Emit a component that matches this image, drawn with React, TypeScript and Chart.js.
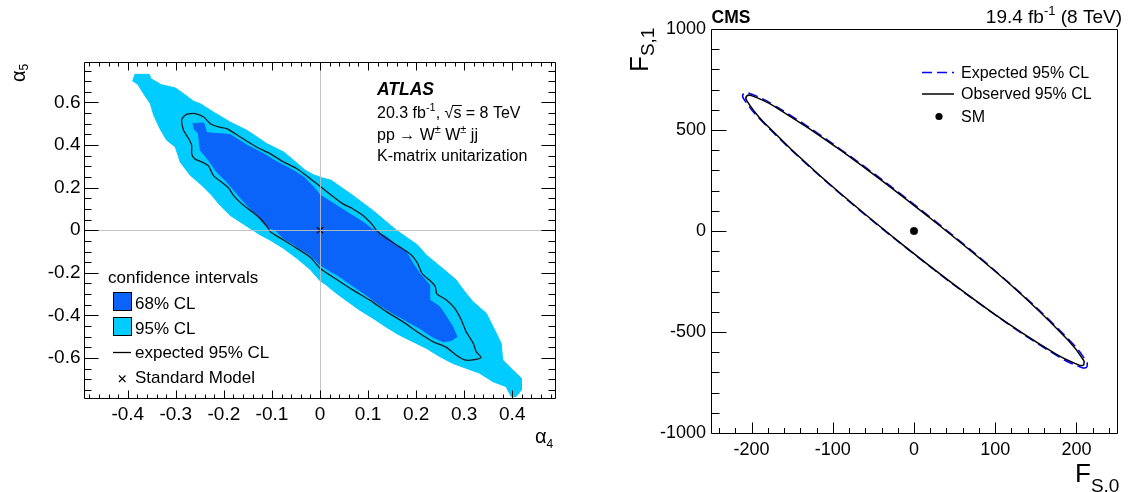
import React, { useEffect, useRef } from 'react';
import { Chart, registerables } from 'chart.js';

Chart.register(...registerables);

const FONT = '"Liberation Sans", Arial, Helvetica, sans-serif';
const DARK_BLUE = '#0a64fa';
const LIGHT_BLUE = '#00ccff';

// ---------------- Left panel (ATLAS, alpha4 vs alpha5) ----------------
const alpha4Ticks = [-0.4, -0.3, -0.2, -0.1, 0, 0.1, 0.2, 0.3, 0.4];
const alpha5Ticks = [-0.6, -0.4, -0.2, 0, 0.2, 0.4, 0.6];

// 95% CL observed region outline
const cl95Alpha4 = [
  -0.390, -0.385, -0.355, -0.352, -0.331, -0.301, -0.284, -0.263, -0.249, -0.222, -0.187, -0.152, -0.111, -0.076,
  -0.055, -0.031, -0.014, 0.004, 0.023, 0.068, 0.110, 0.159, 0.183, 0.203, 0.221, 0.242, 0.263, 0.283, 0.301,
  0.318, 0.346, 0.360, 0.377, 0.380, 0.401, 0.419, 0.419, 0.408, 0.398,
  0.387, 0.360, 0.332, 0.304, 0.276, 0.249, 0.221, 0.193, 0.165, 0.138, 0.110, 0.082, 0.061, 0.034, 0.013, 0.000,
  -0.020, -0.048, -0.076, -0.104, -0.124, -0.145, -0.166, -0.187, -0.208, -0.225, -0.246, -0.270, -0.291, -0.301,
  -0.319, -0.333, -0.346, -0.353, -0.367, -0.378,
];
const cl95Alpha5 = [
  0.700, 0.732, 0.732, 0.712, 0.684, 0.668, 0.641, 0.606, 0.594, 0.555, 0.508, 0.469, 0.407, 0.368,
  0.329, 0.282, 0.261, 0.246, 0.235, 0.164, 0.093, 0.000, -0.038, -0.069, -0.116, -0.155, -0.194, -0.233, -0.288,
  -0.335, -0.390, -0.453, -0.531, -0.609, -0.656, -0.695, -0.750, -0.781, -0.781,
  -0.734, -0.711, -0.671, -0.648, -0.625, -0.593, -0.554, -0.523, -0.492, -0.455, -0.413, -0.374, -0.340, -0.296, -0.257, -0.237,
  -0.185, -0.132, -0.085, -0.046, -0.022, 0.008, 0.039, 0.070, 0.117, 0.164, 0.211, 0.258, 0.321, 0.391,
  0.423, 0.477, 0.540, 0.594, 0.641, 0.681,
];

// 68% CL observed region outline
const cl68Alpha4 = [
  -0.265, -0.242, -0.236, -0.187, -0.152, -0.118, -0.090, -0.062, -0.034, -0.012, 0.000, 0.034, 0.061, 0.089,
  0.112, 0.138, 0.159, 0.179, 0.193, 0.207, 0.228, 0.228, 0.249, 0.263, 0.276, 0.285, 0.273, 0.256,
  0.235, 0.207, 0.179, 0.151, 0.124, 0.096, 0.068, 0.041, 0.020, 0.000, -0.020, -0.048, -0.076, -0.093,
  -0.111, -0.132, -0.152, -0.173, -0.194, -0.215, -0.232, -0.249, -0.253, -0.263,
];
const cl68Alpha5 = [
  0.500, 0.504, 0.458, 0.449, 0.399, 0.360, 0.321, 0.289, 0.250, 0.200, 0.165, 0.117, 0.078, 0.039,
  0.000, -0.030, -0.069, -0.100, -0.155, -0.202, -0.257, -0.327, -0.359, -0.406, -0.453, -0.500, -0.518, -0.523,
  -0.502, -0.460, -0.424, -0.390, -0.351, -0.304, -0.261, -0.218, -0.190, -0.163, -0.116, -0.077, -0.038, 0.000,
  0.016, 0.070, 0.117, 0.172, 0.227, 0.274, 0.329, 0.376, 0.454, 0.477,
];

// expected 95% CL contour
const expAlpha4 = [
  -0.288, -0.287, -0.277, -0.260, -0.242, -0.228, -0.211, -0.194, -0.166, -0.132, -0.104, -0.076, -0.048, -0.020,
  0.002, 0.047, 0.068, 0.089, 0.110, 0.117, 0.138, 0.165, 0.190, 0.203, 0.212, 0.231, 0.240, 0.243, 0.263, 0.280,
  0.294, 0.304, 0.319, 0.325, 0.335, 0.318, 0.301, 0.283, 0.263, 0.235, 0.207, 0.172, 0.138, 0.103, 0.068, 0.034,
  0.000, -0.020, -0.048, -0.076, -0.104, -0.107, -0.124, -0.145, -0.163, -0.180, -0.190, -0.201, -0.222, -0.232,
  -0.246, -0.261, -0.267, -0.267, -0.274, -0.284, -0.288,
];
const expAlpha5 = [
  0.508, 0.524, 0.545, 0.548, 0.532, 0.500, 0.485, 0.477, 0.438, 0.391, 0.360, 0.321, 0.289, 0.242,
  0.203, 0.125, 0.101, 0.070, 0.023, 0.000, -0.038, -0.077, -0.116, -0.155, -0.202, -0.241, -0.265, -0.299, -0.327, -0.366,
  -0.421, -0.476, -0.531, -0.570, -0.597, -0.609, -0.609, -0.586, -0.550, -0.523, -0.484, -0.429, -0.382, -0.327, -0.280, -0.230,
  -0.178, -0.127, -0.085, -0.046, -0.006, 0.008, 0.054, 0.093, 0.125, 0.164, 0.198, 0.219, 0.258, 0.302,
  0.321, 0.336, 0.360, 0.399, 0.433, 0.469, 0.508,
];

const smAlpha4 = [0];
const smAlpha5 = [0];

// ---------------- Right panel (CMS, F_S0 vs F_S1) ----------------
const fs0Ticks = [-200, -100, 0, 100, 200];
const fs1Ticks = [-1000, -500, 0, 500, 1000];

const obsFS0 = [209, 204, 175, 93, -13, -115, -186, -206, -206, -200, -171, -90, 16, 119, 189, 209, 209];
const obsFS1 = [-665, -665, -610, -394, -71, 271, 542, 645, 668, 670, 615, 399, 76, -266, -537, -640, -665];

const expFS0 = [213, 208, 178, 95, -13, -117, -189, -210, -210, -204, -174, -91, 17, 121, 193, 213, 213];
const expFS1 = [-675, -678, -622, -401, -73, 276, 551, 656, 680, 683, 627, 406, 78, -271, -547, -651, -675];

const smFS0 = [0];
const smFS1 = [0];

// ---------------- helpers ----------------
const toPoints = (xs: number[], ys: number[]) => xs.map((x, i) => ({ x, y: ys[i] }));

type Run = { t: string; size: number; dy?: number; style?: string };
function runsWidth(ctx: CanvasRenderingContext2D, runs: Run[]) {
  let w = 0;
  for (const r of runs) {
    ctx.font = `${r.style ?? ''} ${r.size}px ${FONT}`;
    w += ctx.measureText(r.t).width;
  }
  return w;
}
function drawRuns(ctx: CanvasRenderingContext2D, x: number, y: number, runs: Run[]) {
  let cx = x;
  for (const r of runs) {
    ctx.font = `${r.style ?? ''} ${r.size}px ${FONT}`;
    ctx.fillText(r.t, cx, y + (r.dy ?? 0));
    cx += ctx.measureText(r.t).width;
  }
  return cx;
}

type FrameCfg = {
  xMajor: number; xMinor: number; xMajorLen: number; xMinorLen: number;
  yMajor: number; yMinor: number; yMajorLen: number; yMinorLen: number;
  mirror: boolean;
};
function makeFramePlugin(cfg: FrameCfg) {
  return {
    id: 'frameTicks',
    afterDatasetsDraw(chart: any) {
      const { ctx, chartArea: a, scales } = chart;
      const xs = scales.x;
      const ys = scales.y;
      const L = Math.floor(a.left) + 0.5;
      const R = Math.floor(a.right) + 0.5;
      const T = Math.floor(a.top) + 0.5;
      const B = Math.floor(a.bottom) + 0.5;
      ctx.save();
      ctx.strokeStyle = '#000';
      ctx.lineWidth = 1;
      ctx.beginPath();
      ctx.rect(L, T, R - L, B - T);
      ctx.stroke();
      ctx.beginPath();
      const isMajor = (v: number, m: number) => Math.abs(v / m - Math.round(v / m)) < 1e-6;
      for (let i = Math.ceil(xs.min / cfg.xMinor - 1e-6); i <= Math.floor(xs.max / cfg.xMinor + 1e-6); i++) {
        const v = i * cfg.xMinor;
        const len = isMajor(v, cfg.xMajor) ? cfg.xMajorLen : cfg.xMinorLen;
        const p = Math.round(xs.getPixelForValue(v)) + 0.5;
        ctx.moveTo(p, B);
        ctx.lineTo(p, B - len);
        if (cfg.mirror) {
          ctx.moveTo(p, T);
          ctx.lineTo(p, T + len);
        }
      }
      for (let i = Math.ceil(ys.min / cfg.yMinor - 1e-6); i <= Math.floor(ys.max / cfg.yMinor + 1e-6); i++) {
        const v = i * cfg.yMinor;
        const len = isMajor(v, cfg.yMajor) ? cfg.yMajorLen : cfg.yMinorLen;
        const p = Math.round(ys.getPixelForValue(v)) + 0.5;
        ctx.moveTo(L, p);
        ctx.lineTo(L + len, p);
        if (cfg.mirror) {
          ctx.moveTo(R, p);
          ctx.lineTo(R - len, p);
        }
      }
      ctx.stroke();
      ctx.restore();
    },
  };
}

const crosshairPlugin = {
  id: 'crosshair',
  afterDatasetsDraw(chart: any) {
    const { ctx, chartArea: a, scales } = chart;
    const px = Math.round(scales.x.getPixelForValue(0)) + 0.5;
    const py = Math.round(scales.y.getPixelForValue(0)) + 0.5;
    ctx.save();
    ctx.strokeStyle = 'rgba(190,190,190,0.9)';
    ctx.lineWidth = 1;
    ctx.beginPath();
    ctx.moveTo(px, a.top);
    ctx.lineTo(px, a.bottom);
    ctx.moveTo(a.left, py);
    ctx.lineTo(a.right, py);
    ctx.stroke();
    ctx.restore();
  },
};

const atlasTextPlugin = {
  id: 'atlasText',
  afterDraw(chart: any) {
    const ctx: CanvasRenderingContext2D = chart.ctx;
    ctx.save();
    ctx.fillStyle = '#000';
    ctx.strokeStyle = '#000';
    ctx.textAlign = 'left';
    ctx.textBaseline = 'alphabetic';

    // ATLAS label block
    ctx.font = `italic bold 17.5px ${FONT}`;
    ctx.fillText('ATLAS', 377, 95);
    let x = drawRuns(ctx, 377, 118, [
      { t: '20.3 fb', size: 16 },
      { t: '-1', size: 11, dy: -7 },
      { t: ', ', size: 16 },
    ]);
    ctx.font = `16px ${FONT}`;
    ctx.fillText('√', x, 118);
    x += ctx.measureText('√').width;
    const sx = x;
    ctx.fillText('s', x, 118);
    x += ctx.measureText('s').width;
    ctx.lineWidth = 1;
    ctx.beginPath();
    ctx.moveTo(sx - 1, 105.5);
    ctx.lineTo(x + 0.5, 105.5);
    ctx.stroke();
    drawRuns(ctx, x, 118, [{ t: ' = 8 TeV', size: 16 }]);
    drawRuns(ctx, 377, 140, [
      { t: 'pp → W', size: 16 },
      { t: '±', size: 11, dy: -7 },
      { t: ' W', size: 16 },
      { t: '±', size: 11, dy: -7 },
      { t: ' jj', size: 16 },
    ]);
    drawRuns(ctx, 377, 161, [{ t: 'K-matrix unitarization', size: 16 }]);

    // legend
    drawRuns(ctx, 108, 283, [{ t: 'confidence intervals', size: 17 }]);
    ctx.lineWidth = 1;
    ctx.fillStyle = DARK_BLUE;
    ctx.fillRect(113.5, 292.5, 18, 18);
    ctx.strokeRect(113.5, 292.5, 18, 18);
    ctx.fillStyle = LIGHT_BLUE;
    ctx.fillRect(113.5, 317.5, 18, 18);
    ctx.strokeRect(113.5, 317.5, 18, 18);
    ctx.fillStyle = '#000';
    drawRuns(ctx, 135, 308.5, [{ t: '68% CL', size: 17 }]);
    drawRuns(ctx, 135, 333.5, [{ t: '95% CL', size: 17 }]);
    ctx.lineWidth = 1.3;
    ctx.beginPath();
    ctx.moveTo(113, 352.5);
    ctx.lineTo(131, 352.5);
    ctx.stroke();
    drawRuns(ctx, 135, 358, [{ t: 'expected 95% CL', size: 17 }]);
    ctx.lineWidth = 1.1;
    ctx.beginPath();
    ctx.moveTo(119, 375.5);
    ctx.lineTo(125.5, 382);
    ctx.moveTo(125.5, 375.5);
    ctx.lineTo(119, 382);
    ctx.stroke();
    drawRuns(ctx, 135, 383, [{ t: 'Standard Model', size: 17 }]);

    // axis titles
    drawRuns(ctx, 535, 443, [
      { t: 'α', size: 20 },
      { t: '4', size: 12, dy: 5 },
    ]);
    ctx.translate(25, 82);
    ctx.rotate(-Math.PI / 2);
    drawRuns(ctx, 0, 0, [
      { t: 'α', size: 20 },
      { t: '5', size: 12, dy: 3 },
    ]);
    ctx.restore();
  },
};

const cmsTextPlugin = {
  id: 'cmsText',
  afterDraw(chart: any) {
    const ctx: CanvasRenderingContext2D = chart.ctx;
    const ox = -565; // canvas offset relative to page
    ctx.save();
    ctx.fillStyle = '#000';
    ctx.strokeStyle = '#000';
    ctx.textAlign = 'left';
    ctx.textBaseline = 'alphabetic';

    ctx.font = `bold 17.5px ${FONT}`;
    ctx.fillText('CMS', 711.5 + ox, 23);
    const lumi: Run[] = [
      { t: '19.4 fb', size: 19 },
      { t: '-1', size: 13, dy: -8 },
      { t: ' (8 TeV)', size: 19 },
    ];
    const w = runsWidth(ctx, lumi);
    drawRuns(ctx, 1122 + ox - w, 23, lumi);

    // legend
    ctx.strokeStyle = '#0000ff';
    ctx.lineWidth = 1.5;
    ctx.setLineDash([10, 5]);
    ctx.beginPath();
    ctx.moveTo(922 + ox, 72.5);
    ctx.lineTo(954 + ox, 72.5);
    ctx.stroke();
    ctx.setLineDash([]);
    ctx.strokeStyle = '#000';
    ctx.beginPath();
    ctx.moveTo(922 + ox, 94);
    ctx.lineTo(954 + ox, 94);
    ctx.stroke();
    ctx.beginPath();
    ctx.arc(939 + ox, 116.5, 3.6, 0, Math.PI * 2);
    ctx.fill();
    drawRuns(ctx, 961 + ox, 77.5, [{ t: 'Expected 95% CL', size: 16 }]);
    drawRuns(ctx, 961 + ox, 99, [{ t: 'Observed 95% CL', size: 16 }]);
    drawRuns(ctx, 961 + ox, 121.5, [{ t: 'SM', size: 16 }]);

    // axis titles
    const xr = drawRuns(ctx, 1075 + ox, 482, [{ t: 'F', size: 26 }]);
    drawRuns(ctx, xr, 492, [{ t: 'S,0', size: 19 }]);
    ctx.translate(648 + ox, 72);
    ctx.rotate(-Math.PI / 2);
    const yr = drawRuns(ctx, 0, 0, [{ t: 'F', size: 26 }]);
    drawRuns(ctx, yr, 6, [{ t: 'S,1', size: 19 }]);
    ctx.restore();
  },
};

function zeroPad(s: any) {
  s.paddingLeft = 0;
  s.paddingRight = 0;
  s.paddingTop = 0;
  s.paddingBottom = 0;
}

function AtlasPanel() {
  const ref = useRef<HTMLCanvasElement>(null);
  useEffect(() => {
    const chart = new Chart(ref.current as HTMLCanvasElement, {
      type: 'scatter',
      data: {
        datasets: [
          {
            label: 'Standard Model',
            data: toPoints(smAlpha4, smAlpha5),
            pointStyle: 'crossRot',
            pointRadius: 4.5,
            borderColor: '#000',
            borderWidth: 1.2,
            showLine: false,
            order: 0,
          },
          {
            label: 'expected 95% CL',
            data: toPoints(expAlpha4, expAlpha5),
            showLine: true,
            borderColor: '#1a1a1a',
            borderWidth: 1.3,
            pointRadius: 0,
            fill: false,
            tension: 0.2,
            order: 1,
          },
          {
            label: '68% CL',
            data: toPoints(cl68Alpha4, cl68Alpha5),
            showLine: true,
            borderColor: DARK_BLUE,
            backgroundColor: DARK_BLUE,
            borderWidth: 1,
            pointRadius: 0,
            fill: 'shape',
            tension: 0,
            order: 2,
          },
          {
            label: '95% CL',
            data: toPoints(cl95Alpha4, cl95Alpha5),
            showLine: true,
            borderColor: LIGHT_BLUE,
            backgroundColor: LIGHT_BLUE,
            borderWidth: 1,
            pointRadius: 0,
            fill: 'shape',
            tension: 0,
            order: 3,
          },
        ],
      } as any,
      options: {
        responsive: false,
        animation: false,
        devicePixelRatio: 1,
        events: [],
        layout: { padding: { left: 0, right: 9.5, top: 62, bottom: 0 } },
        plugins: {
          legend: { display: false },
          tooltip: { enabled: false },
        },
        scales: {
          x: {
            type: 'linear',
            min: -0.49,
            max: 0.49,
            afterBuildTicks: (s: any) => {
              s.ticks = alpha4Ticks.map((v) => ({ value: v }));
            },
            afterFit: (s: any) => {
              s.height = 93.5;
              zeroPad(s);
            },
            grid: { display: false, drawTicks: false },
            border: { display: false },
            ticks: {
              padding: 5,
              autoSkip: false,
              maxRotation: 0,
              color: '#000',
              font: { family: FONT, size: 19 },
              callback: (v: any) => String(v),
            },
          },
          y: {
            type: 'linear',
            min: -0.79,
            max: 0.79,
            afterBuildTicks: (s: any) => {
              s.ticks = alpha5Ticks.map((v) => ({ value: v }));
            },
            afterFit: (s: any) => {
              s.width = 84.5;
              zeroPad(s);
            },
            grid: { display: false, drawTicks: false },
            border: { display: false },
            ticks: {
              padding: 4,
              autoSkip: false,
              color: '#000',
              font: { family: FONT, size: 19 },
              callback: (v: any) => String(v),
            },
          },
        },
      } as any,
      plugins: [
        crosshairPlugin,
        makeFramePlugin({
          xMajor: 0.1, xMinor: 0.02, xMajorLen: 8, xMinorLen: 4,
          yMajor: 0.2, yMinor: 0.05, yMajorLen: 14, yMinorLen: 7,
          mirror: true,
        }),
        atlasTextPlugin,
      ],
    });
    return () => chart.destroy();
  }, []);
  return (
    <canvas
      ref={ref}
      width={565}
      height={492}
      style={{ position: 'absolute', left: 0, top: 0, width: 565, height: 492 }}
    />
  );
}

function CmsPanel() {
  const ref = useRef<HTMLCanvasElement>(null);
  useEffect(() => {
    const chart = new Chart(ref.current as HTMLCanvasElement, {
      type: 'scatter',
      data: {
        datasets: [
          {
            label: 'SM',
            data: toPoints(smFS0, smFS1),
            pointStyle: 'circle',
            pointRadius: 3.8,
            backgroundColor: '#000',
            borderColor: '#000',
            borderWidth: 0.5,
            showLine: false,
            order: 0,
          },
          {
            label: 'Observed 95% CL',
            data: toPoints(obsFS0, obsFS1),
            showLine: true,
            borderColor: '#000',
            borderWidth: 1.5,
            pointRadius: 0,
            fill: false,
            tension: 0.4,
            order: 1,
          },
          {
            label: 'Expected 95% CL',
            data: toPoints(expFS0, expFS1),
            showLine: true,
            borderColor: '#0000ff',
            borderWidth: 1.5,
            borderDash: [10, 5],
            pointRadius: 0,
            fill: false,
            tension: 0.4,
            order: 2,
          },
        ],
      } as any,
      options: {
        responsive: false,
        animation: false,
        devicePixelRatio: 1,
        events: [],
        layout: { padding: { left: 0, right: 13, top: 29, bottom: 0 } },
        plugins: {
          legend: { display: false },
          tooltip: { enabled: false },
        },
        scales: {
          x: {
            type: 'linear',
            min: -250,
            max: 250,
            afterBuildTicks: (s: any) => {
              s.ticks = fs0Ticks.map((v) => ({ value: v }));
            },
            afterFit: (s: any) => {
              s.height = 59;
              zeroPad(s);
            },
            grid: { display: false, drawTicks: false },
            border: { display: false },
            ticks: {
              padding: 6,
              autoSkip: false,
              maxRotation: 0,
              color: '#000',
              font: { family: FONT, size: 18 },
              callback: (v: any) => String(v),
            },
          },
          y: {
            type: 'linear',
            min: -1000,
            max: 1000,
            afterBuildTicks: (s: any) => {
              s.ticks = fs1Ticks.map((v) => ({ value: v }));
            },
            afterFit: (s: any) => {
              s.width = 146;
              zeroPad(s);
            },
            grid: { display: false, drawTicks: false },
            border: { display: false },
            ticks: {
              padding: 5,
              autoSkip: false,
              color: '#000',
              font: { family: FONT, size: 18 },
              callback: (v: any) => String(v),
            },
          },
        },
      } as any,
      plugins: [
        makeFramePlugin({
          xMajor: 100, xMinor: 20, xMajorLen: 11, xMinorLen: 5.5,
          yMajor: 500, yMinor: 100, yMajorLen: 15, yMinorLen: 8,
          mirror: false,
        }),
        cmsTextPlugin,
      ],
    });
    return () => chart.destroy();
  }, []);
  return (
    <canvas
      ref={ref}
      width={565}
      height={492}
      style={{ position: 'absolute', left: 565, top: 0, width: 565, height: 492 }}
    />
  );
}

export default function App() {
  return (
    <div style={{ position: 'absolute', left: 0, top: 0, width: 1130, height: 492, background: '#fff', overflow: 'hidden' }}>
      <AtlasPanel />
      <CmsPanel />
    </div>
  );
}
